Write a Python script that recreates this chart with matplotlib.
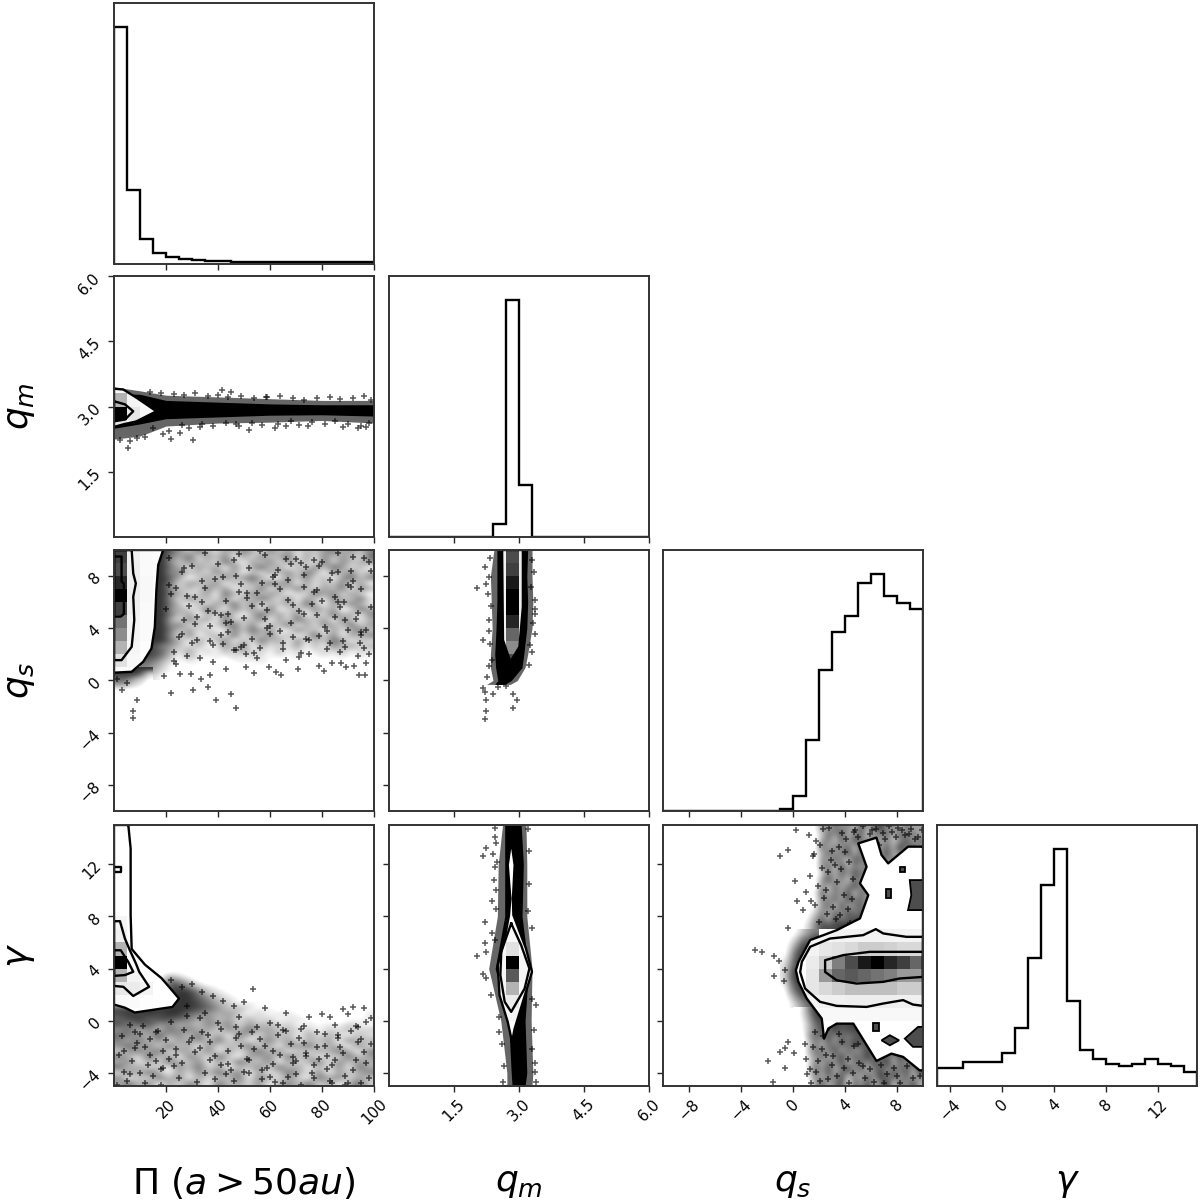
import numpy as np
import matplotlib
matplotlib.use('Agg')
import matplotlib.pyplot as plt

# Ranges and ticks of the four parameters
pi_lim = (0, 100)
qm_lim = (0, 6)
qs_lim = (-10, 10)
gam_lim = (-5, 15)
pi_ticks = [20, 40, 60, 80, 100]
qm_ticks = [1.5, 3.0, 4.5, 6.0]
qs_ticks = [-8, -4, 0, 4, 8]
gam_ticks = [-4, 0, 4, 8, 12]

# Histograms (20 bins each)
pi_hist = [236, 74, 25, 11, 7, 5, 4, 3, 3, 2, 2, 2, 2, 2, 2, 2, 2, 2, 2, 2]
qm_hist = [0, 0, 0, 0, 0, 0, 0, 0, 13, 237, 52, 0, 0, 0, 0, 0, 0, 0, 0, 0]
qs_hist = [0, 0, 0, 0, 0, 0, 0, 0, 0, 2, 15, 71, 141, 180, 196, 229, 238, 216, 209, 203]
gam_hist = [54, 54, 71, 71, 71, 98, 175, 386, 603, 713, 256, 109, 81, 65, 60, 65, 81, 65, 60, 43]

# q_m against Pi
qm_pi_nodes = [0, 10, 20, 40, 60, 80, 100]
qm_pi_grey_lo = [2.25, 2.32, 2.55, 2.62, 2.64, 2.68, 2.62]
qm_pi_grey_hi = [3.45, 3.36, 3.26, 3.22, 3.18, 3.14, 3.14]
qm_pi_dark_lo = [2.50, 2.60, 2.72, 2.76, 2.80, 2.81, 2.78]
qm_pi_dark_hi = [3.30, 3.28, 3.14, 3.10, 3.06, 3.04, 3.04]
qm_pi_x = [5.5, 22, 30.4, 41.6, 45, 33, 74.8, 58.5, 8.7, 2.3, 25.3, 62, 66, 88, 94, 97, 52, 47, 12, 19,
           14, 18, 23, 27, 31, 36, 40, 44, 49, 54, 59, 64, 69, 73, 78, 83, 87, 92, 96, 99,
           15, 21, 26, 29, 34, 38, 43, 48, 53, 57, 63, 68, 71, 76, 81, 85, 90, 95, 98, 6]
qm_pi_y = [2.05, 2.26, 2.22, 3.38, 3.33, 2.53, 2.55, 3.22, 2.28, 2.24, 2.40, 2.50, 2.55, 2.52, 2.50, 2.53, 2.47, 2.60, 2.30, 2.36,
           3.34, 3.30, 3.29, 3.26, 3.31, 3.24, 3.27, 3.22, 3.25, 3.2, 3.22, 3.24, 3.2, 3.16, 3.2, 3.22, 3.18, 3.2, 3.24, 3.16,
           2.5, 2.44, 2.58, 2.5, 2.6, 2.56, 2.62, 2.55, 2.62, 2.58, 2.6, 2.66, 2.58, 2.64, 2.6, 2.66, 2.6, 2.55, 2.62, 2.2]
qm_pi_outer = [(0, 3.41), (3.6, 3.39), (8.7, 3.2), (16.3, 2.89), (8.7, 2.66), (3.6, 2.59), (0, 2.53)]
qm_pi_inner = [(0, 3.12), (4.2, 3.05), (7.4, 2.89), (4.2, 2.7), (0, 2.66)]
qm_pi_cell_x = [0, 5, 10, 15]
qm_pi_cell_y = [2.4, 2.7, 3.0, 3.3, 3.6]
qm_pi_cells = [[0.10, 0.02, 0.0], [1.0, 0.10, 0.03], [0.30, 0.05, 0.02], [0.03, 0.0, 0.0]]

# q_s against Pi: density read on a coarse grid, top row first (Pi 10-100, q_s 10 to 0)
qs_pi_density = [
    "99975364253642635243564536",
    "99964725361526347152635427",
    "99953634274153625341726345",
    "99964253516247351426375241",
    "99956342635142536274153624",
    "99974135263574125362415736",
    "99962543614253746152436251",
    "99953426351427153642537164",
    "99964235174263541327462531",
    "99952634261537426153264372",
    "99963142537261435274153642",
    "99954327416352713426351274",
    "99963514263147352614273516",
    "99942635172436152743516324",
    "99956241357261437152643725",
    "99963524126374521634152473",
    "99952613427153624137261536",
    "99964152361427351624375142",
    "98653241253614232514163524",
    "98742513142523141312324132",
    "88631421213132121211212121",
    "76421211101212101101011011",
    "65310110101011010001000100",
    "54210100010000100000000000",
    "32100010000000000000000000",
]
qs_pi_grid_box = (10, 100, 0, 10)
qs_pi_tail = [  # Pi 0-15, q_s 1 to -1
    "999999",
    "999974",
    "888752",
    "776431",
    "664320",
    "443210",
    "221100",
    "000000",
]
qs_pi_tail_box = (0, 15, -1, 1)
qs_pi_x = [8.9, 7.4, 7.4, 21.8, 30.4, 36, 39.3, 45, 47, 19.3, 25.3, 29.8, 33.6, 36.8, 42.9, 50.8, 54, 59.8, 62.3, 64.2,
           70.6, 79, 80.8, 83.8, 87.2, 89.4, 94.3, 96.4, 97, 92.3, 94.9, 94.5, 86, 88.5, 73, 75, 50.8, 3, 1, 5,
           21, 24, 27, 23, 26, 29, 32, 35, 31, 28, 34, 37, 40, 38, 43, 41, 46, 44, 49, 47,
           52, 50, 55, 53, 58, 56, 61, 59, 64, 62, 67, 65, 70, 68, 73, 71, 76, 74, 79, 77,
           82, 80, 85, 83, 88, 86, 91, 89, 94, 92, 97, 95, 99, 22, 25, 30, 33, 36, 39, 42,
           45, 48, 51, 54, 57, 60, 63, 66, 69, 72, 75, 78, 81, 84, 87, 90, 93, 96, 98, 20,
           23, 28, 31, 35, 38, 41, 44, 47, 50, 53, 56, 59, 62, 65, 68, 71, 74, 77, 80, 83,
           86, 89, 92, 95, 98, 24, 27, 32, 37, 42, 46, 51, 55, 60, 64, 69, 73, 78, 82, 87,
           91, 96, 26, 34, 43, 49, 57, 66, 72, 79, 85, 90, 94, 99, 21, 30, 39, 48, 58, 67]
qs_pi_y = [-1.5, -2.35, -2.9, -.95, -.7, -.5, -1.5, -1, -2.1, .33, .53, .53, .15, .4, .85, 1, .6, 1.05, .67, .4,
           .85, 1.1, .7, 1.35, 1.35, 1, .4, .4, 1.35, 1.1, 3.7, 2.85, 9.75, 6, 5.1, 2.05, 2.05, -.7, .1, -.2,
           9.4, 7.1, 4.6, 2.2, 8.3, 5.7, 3.1, 9.8, 6.4, 1.9, 7.6, 4.2, 8.9, 2.7, 6.1, 3.5, 9.2, 5.1, 7.4, 2.3,
           8.6, 4.8, 6.7, 3.2, 9.6, 2.5, 7.9, 5.4, 3.8, 8.1, 6.2, 2.9, 9.3, 4.4, 7.2, 1.8, 5.9, 8.7, 3.4, 6.8,
           2.4, 9.1, 4.9, 7.7, 3.0, 6.0, 8.4, 2.6, 5.2, 9.5, 3.9, 7.0, 5.6, 6.6, 3.3, 8.8, 1.7, 5.3, 7.8, 2.8,
           4.5, 9.7, 6.3, 2.1, 7.5, 3.6, 8.5, 1.6, 5.8, 9.0, 3.1, 6.9, 4.1, 8.2, 2.2, 7.3, 4.7, 9.4, 2.0, 5.5,
           1.5, 6.5, 4.3, 7.1, 1.4, 5.0, 3.7, 8.0, 2.7, 5.7, 9.9, 4.0, 7.4, 2.4, 8.9, 5.3, 3.2, 9.2, 6.1, 2.9,
           8.3, 4.6, 7.6, 3.5, 9.1, 1.3, 8.6, 4.9, 3.0, 7.9, 2.3, 6.7, 1.7, 4.2, 7.0, 3.3, 8.1, 5.0, 3.8, 5.6,
           7.2, 2.5, 3.6, 6.0, 4.4, 2.6, 5.9, 9.3, 2.1, 8.8, 6.4, 3.9, 1.9, 8.4, 7.3, 2.9, 5.2, 6.8, 4.7, 7.7]
qs_pi_outer = [(18.9, 10), (17, 8.85), (16.3, 6.93), (15.7, 4.1), (14.4, 2.45), (11.2, 1.43), (6.8, .67), (0, .6), (0, 10)]
qs_pi_inner = [(6.8, 10), (7.4, 8.2), (8.4, 7.44), (7.4, 6.42), (7.8, 4.63), (6.8, 2.58), (2.9, 1.56), (0, 1.56), (0, 10)]
qs_pi_core = [(0, 9.5), (2.9, 9.5), (2.9, 7.6), (3.8, 7.4), (3.8, 5.1), (2.6, 4.9), (0, 4.9)]
qs_pi_cell_x = [0, 5, 10, 15, 20]
qs_pi_cell_y = [0, 1, 2, 3, 4, 5, 6, 7, 8, 9, 10]
qs_pi_cells = [[.02, 0, 0, 0], [.12, .03, 0, 0], [.30, .04, .01, 0], [.45, .05, .02, .01], [.55, .05, .02, .01],
               [.75, .06, .02, .01], [1.0, .07, .03, .01], [.85, .07, .03, .01], [.70, .07, .02, .01], [.75, .06, .02, .01]]

# gamma against Pi: density grid, top row first (Pi 0-100, gamma 4 to -5)
gam_pi_density = [
    "00000010000000000000000000",
    "00000421000000000000000000",
    "00000763100000000000000000",
    "00000886321010000000000000",
    "00000899632101000100000000",
    "00000899753210010000000000",
    "00000899864312101000000001",
    "88999999875342120100010011",
    "89898997654531312210100102",
    "78978876463524231221010112",
    "86785645364625342312121321",
    "57463756452637453423132423",
    "76548463725164253415243142",
    "64736254637251463524351634",
    "57462735162437251647253162",
    "35647254361524736142537416",
    "64273516427315462735142735",
    "46152743615274361524716354",
    "73524163725143627351426174",
    "26374152637461523742615346",
    "61427361524371642531746253",
    "47361526417352614637251473",
]
gam_pi_grid_box = (0, 100, -5, 4)
gam_pi_x = [92, 96, 53.4, 88, 90, 83, 80, 97, 99, 94, 22, 26, 30, 34, 38, 42, 46, 50, 58, 66, 75,
            3, 7, 11, 15, 19, 5, 9, 13, 17, 21, 2, 6, 10, 14, 18, 4, 8, 12, 16, 20,
            23, 27, 31, 35, 25, 29, 33, 37, 24, 28, 32, 36, 40, 44, 48, 39, 43, 47, 51, 41,
            45, 49, 53, 57, 52, 56, 60, 64, 55, 59, 63, 67, 61, 65, 69, 73, 62, 68, 72, 76,
            70, 74, 78, 82, 71, 77, 81, 85, 79, 83, 87, 91, 84, 86, 89, 93, 88, 92, 95, 98,
            1, 12, 26, 37, 50, 63, 74, 86, 97, 8, 19, 33, 46, 58, 70, 82, 94, 4, 16, 28,
            41, 54, 66, 78, 90, 6, 22, 35, 48, 61, 73, 85, 96, 14, 30, 44, 57, 69, 81, 93,
            10, 24, 39, 52, 65, 77, 89, 99, 18, 34, 47, 60, 72, 84, 95]
gam_pi_y = [1.06, .98, 2.47, .9, .5, .3, .55, -.1, .2, -.5, 3.1, 2.6, 2.8, 2.2, 1.9, 1.5, 1.1, 1.4, 1.0, .6, .3,
            -1.2, -3.1, -.4, -4.2, -2.3, -4.6, -1.7, -3.4, -.8, -2.9, -2.6, -.3, -4.0, -1.4, -3.7, -3.9, -2.1, -4.8, -.9, -1.5,
            -3.5, -.7, -2.4, .6, -4.4, -1.6, .2, -3.0, -2.2, 1.1, -4.7, -1.1, -.2, -3.3, .3, -2.7, -4.1, -1.3, -2.9, -.6,
            -3.8, -1.9, -.9, -4.5, -3.0, -1.4, -.2, -2.6, -.5, -3.6, -1.1, -4.3, -2.3, -.7, -3.2, -1.7, -4.7, -1.8, -.6, -4.0,
            -3.1, -2.5, -.9, -3.7, -1.3, -4.4, -1.9, -.3, -2.9, -4.6, -2.0, -.8, -3.4, -1.1, -4.2, -.4, -2.5, -3.8, -1.4, -4.4,
            -4.9, -2.0, -3.2, -1.6, -3.9, -.3, -2.7, -1.3, -3.2, -.9, -3.6, -2.1, -4.6, -1.9, -4.1, -2.7, -1.6, -2.3, -3.1, .4,
            -3.4, -2.2, -.8, -2.0, -4.8, -4.1, -.1, -4.0, -1.0, -3.3, -.4, -3.0, -2.4, -2.6, -1.3, -2.3, -3.8, -2.8, -1.0, -3.0,
            -1.0, -2.6, -4.5, -4.0, -4.8, -3.4, -4.9, -1.8, -4.9, -.9, -.5, -4.3, -4.9, -4.8, -4.8]
gam_pi_outer = [(5.5, 15), (6.4, 13.2), (6.4, 8.1), (6.8, 5.5), (11.9, 4.3), (18.3, 3.26), (25, 1.7), (22.5, 1.06),
                (8, .63), (4.2, 1), (0, 1.24), (0, 15)]
gam_pi_mid = [(0, 7.63), (2.3, 7.63), (4.2, 6.3), (6.1, 5.4), (8.4, 4.4), (9.7, 3.75), (13.5, 2.6), (7.4, 1.9), (3.6, 2.6), (0, 2.67)]
gam_pi_core = [(0, 5.4), (2.6, 5.4), (5.5, 4.5), (7.4, 3.75), (4.2, 3.5), (0, 3.44)]
gam_pi_spot = [(0, 11.8), (2.6, 11.8), (2.6, 11.37), (0, 11.37)]
gam_pi_cell_x = [0, 5, 10, 15]
gam_pi_cell_y = [1, 2, 3, 4, 5, 6, 7, 8]
gam_pi_cells = [[.03, .02, .01], [.09, .08, .05], [.30, .05, .01], [1.0, .03, .01], [.30, .02, 0], [.06, .01, 0], [.04, .01, 0]]

# q_s against q_m
qs_qm_nodes = [-.3, 0, 1, 2, 4, 6, 8, 10]
qs_qm_grey_lo = [2.25, 2.40, 2.34, 2.34, 2.38, 2.36, 2.34, 2.42]
qs_qm_grey_hi = [2.80, 2.96, 3.14, 3.20, 3.30, 3.32, 3.30, 3.30]
qs_qm_dark_lo = [2.44, 2.51, 2.46, 2.44, 2.47, 2.49, 2.49, 2.49]
qs_qm_dark_hi = [2.67, 2.82, 3.07, 3.11, 3.18, 3.20, 3.18, 3.20]
qs_qm_x = [2.04, 2.21, 2.17, 2.21, 2.25, 2.4, 2.7, 2.86, 2.95, 2.87, 2.25, 2.21, 2.17, 2.51, 3.37, 2.3, 2.25, 3.36, 3.38, 2.3,
           2.32, 2.28, 2.36, 2.3, 2.34, 2.38, 2.3, 2.26, 3.3, 3.34, 3.28, 3.36, 3.32, 3.26, 3.3, 3.22]
qs_qm_y = [7.06, 8.72, 3.1, -.87, -1.5, -1, -.4, -1, -1.5, -2.1, -2.35, -2.92, -.6, -.5, 3.6, 7.9, 7.4, 6.2, 5.1, 3.8,
           9.4, 6.6, 5.7, 4.6, 2.8, 1.6, 1.1, .3, 9.2, 8.3, 7.2, 5.5, 4.4, 2.7, 2.2, 1.2]
qs_qm_outer = [(2.61, 10), (2.63, 3.1), (2.8, 1.43), (3.01, 2.58), (3.09, 5.65), (3.09, 10)]
qs_qm_cell_x = [2.4, 2.7, 3.0, 3.3]
qs_qm_cell_y = [0, 1, 2, 3, 4, 5, 6, 7, 8, 9, 10]
qs_qm_cells = [[0, .7, 0], [.02, .7, 0], [.05, .45, .08], [.05, .6, .08], [.05, .85, .08],
               [.05, 1.0, .08], [.05, 1.0, .08], [.05, .9, .08], [.05, .75, .08], [.05, .7, .08]]

# gamma against q_m
gam_qm_nodes = [15, 12, 8, 4, 0, -4, -5]
gam_qm_grey_lo = [2.62, 2.52, 2.50, 2.30, 2.58, 2.72, 2.72]
gam_qm_grey_hi = [3.16, 3.18, 3.18, 3.30, 3.28, 3.32, 3.30]
gam_qm_dark_lo = [2.67, 2.67, 2.67, 2.45, 2.76, 2.82, 2.84]
gam_qm_dark_hi = [3.05, 3.10, 3.07, 3.22, 3.14, 3.18, 3.14]
gam_qm_x = [2.04, 2.17, 2.4, 2.44, 3.2, 2.25, 2.47, 2.44, 2.38, 2.21, 2.47, 2.21, 2.25, 2.23, 2.36, 2.17, 3.3, 3.39, 2.55, 3.36, 2.63, 3.4,
            2.45, 2.5, 2.42, 2.48, 2.38, 2.44, 3.22, 3.24, 3.2, 3.3, 3.34, 3.3, 3.36, 2.55, 2.6, 2.66]
gam_qm_y = [4.97, 12.65, 12.8, 14.74, 14.7, 13.2, 13.6, 11.8, 9.17, 7.58, 10, 5.92, 5.28, 3.24, 1.96, 3.62, 7.07, 1.19, -.86, -3.9, -4.7, -4.7,
            14.1, 12.2, 10.8, 8.6, 6.7, 6.2, 13, 10.5, 8.4, 1.7, -.7, -2.2, -3.2, .3, -1.8, -3.5]
gam_qm_outer = [(2.82, 13.85), (2.9, 11.93), (2.86, 9.37), (2.87, 8.1), (3.16, 5.54), (3.3, 3.75), (3.09, 1.45), (2.9, -.6),
                (2.84, -1.62), (2.74, -.09), (2.55, 1.96), (2.51, 4.26), (2.67, 6.3), (2.77, 8.1), (2.8, 9.37), (2.74, 11.93)]
gam_qm_inner = [(2.82, 7.46), (3.05, 5.79), (3.24, 4), (3.13, 2.47), (2.82, .68), (2.67, 1.45), (2.57, 3.5), (2.59, 5.28)]
gam_qm_cell_x = [2.4, 2.7, 3.0, 3.3]
gam_qm_cell_y = [0, 1, 2, 3, 4, 5, 6, 7]
gam_qm_cells = [[.02, .04, .01], [.03, .08, .02], [.04, .30, .03], [.04, .65, .04], [.04, 1.0, .04], [.03, .12, .02], [.01, .03, 0]]

# gamma against q_s: density grids, top row first
gam_qs_top = [  # q_s 0-10, gamma 15 to 7
    "00016475638479563745",
    "00013758467356748574",
    "00005637486574635847",
    "00017465738465749685",
    "00014756847375846574",
    "00006475386748563748",
    "00015738465647385967",
    "00003647586748598677",
    "00015846375867498687",
    "00006374685748569788",
    "00027465837566758677",
    "00016574867485767688",
    "00025738467586778899",
    "00136475867688899999",
    "00257486788899999999",
    "01368889999999999999",
]
gam_qs_top_box = (0, 10, 7, 15)
gam_qs_mid_grid = [  # q_s -1 to 2, gamma 7 to 1
    "001356",
    "013679",
    "025899",
    "037999",
    "148999",
    "258999",
    "269999",
    "269999",
    "158999",
    "047999",
    "025799",
    "013578",
]
gam_qs_mid_box = (-1, 2, 1, 7)
gam_qs_low = [  # q_s 0-10, gamma 1 to -5
    "02699999999999999999",
    "02589999999999999999",
    "01478888899999999999",
    "01468697889988999999",
    "00576857678899889999",
    "00364758697888879788",
    "00475684756878697868",
    "00357468576968758697",
    "00264758467586947586",
    "00375846957468576849",
    "00264758364759685746",
    "00157468275846937584",
]
gam_qs_low_box = (0, 10, -5, 1)
gam_qs_x = [-2.9, -2.4, -1.5, -1.1, -.6, -1.5, -.73, -.42, -.98, -.42, .22, .12, .98, .3, .75, -.6, -1, .1, -1.95, -.6, -1.55, -.35,
            1.2, 1.5, 1.9, 2.3, 2.7, 3.1, 3.5, 3.9, 4.3, 4.7, 1.4, 1.8, 2.2, 2.6, 3, 3.4, 3.8, 4.2, 4.6, 5,
            1.3, 1.7, 2.1, 2.5, 2.9, 3.3, 3.7, 4.1, 4.5, 1.6, 2, 2.4, 2.8, 3.2, 3.6, 4, 4.4, 4.8,
            6.1, 6.6, 7.1, 7.6, 8.1, 8.6, 9.1, 9.6, 5.4, 5.9, 6.4, 6.9, 7.4, 7.9, 8.4, 8.9, 9.4, 9.9,
            .9, 1.3, 1.7, 2.1, 2.5, 1.1, 1.5, 1.9, 2.3, 2.7, 3.1, 3.5, 3.9, 4.3, 4.7, 5.1, 5.5, 5.9, 1, 1.4,
            1.8, 2.2, 2.6, 3, 3.4, 3.8, 4.2, 4.6, 5, 5.4, 6.2, 6.8, 7.2, 7.8, 8.2, 8.8, 9.2, 9.8, 7, 8]
gam_qs_y = [5.4, 5.28, 4.97, 4.57, 3.87, 3.4, 3.06, 7.07, 12.6, 13.1, 14.6, 10.7, 9.83, 9.17, 8.5, -2.1, -2.4, -2.5, -3.1, -3.6, -4.7, -1.6,
            14.2, 12.6, 10.3, 14.7, 11.4, 8.7, 13.3, 9.6, 12.2, 14.5, 9.2, 13.8, 11.7, 8.2, 13, 10.6, 14.4, 8.6, 10.9, 14.1,
            11.1, 8.9, 13.5, 10, 12.3, 7.8, 11.6, 13.9, 9.3, 12.8, 7.6, 9.4, 14.8, 11.9, 8.1, 12.9, 7.5, 14.6,
            14.6, 13.5, 13.9, 14.5, 14.8, 14.2, 14.7, 14.1, 14.9, 14.3, 14.7, 14.4, 14.9, 14.1, 14.6, 14.3, 13.9, 14.6,
            -1.8, -3.7, -.9, -4.6, -2.6, -4.1, -2, -3.1, -1.2, -4.5, -2.7, -1, -3.6, -4.8, -1.9, -3.2, -4.4, -3.7, -2.9, -4.8,
            -3.9, -2.2, -.7, -3.4, -4.2, -1.6, -2.9, -4, -1.8, -3.5, -4.7, -3.4, -4.1, -3.6, -4.8, -3.5, -4.4, -4.2, -4.8, -4.2]
gam_qs_outer = [(10, 13.34), (8.85, 13.34), (7.32, 12.06), (6.81, 12.7), (6.42, 14.03), (5.02, 13.59), (5.66, 11.8), (5.15, 10.52),
                (5.79, 9.63), (5.15, 7.84), (3.36, 6.94), (1.32, 6.18), (.42, 4.51), (.22, 3.87), (.42, 2.98), (1.06, 1.7),
                (2.21, .17), (2.39, -1.37), (2.72, -.6), (3.36, -.22), (4.64, -.22), (6.42, -3.08), (7.57, -2.52), (8.47, -2.77),
                (9.74, -3.8), (10, -3.8)]
gam_qs_mid = [(10, 6.43), (8.72, 6.43), (6.94, 6.69), (6.37, 7.02), (5.4, 6.56), (2.85, 6.3), (1.32, 5.67), (.68, 4.51), (.55, 3.74),
              (.93, 2.47), (2.08, 1.45), (3.36, 1.14), (5.66, 1.06), (6.94, 1.32), (8.47, 1.58), (9.23, 1.24), (10, 1.14)]
gam_qs_core = [(10, 5.28), (7.96, 5.28), (5.91, 5.28), (3.87, 5.03), (2.47, 4.64), (2.47, 3.74), (3.36, 3.1), (4.89, 2.85),
               (6.94, 2.98), (8.21, 3.24), (10, 3.36)]
gam_qs_islands = [
    [(8.2, 11.8), (8.6, 11.8), (8.6, 11.4), (8.2, 11.4)],
    [(7.15, 10.1), (7.5, 10.1), (7.5, 9.4), (7.15, 9.4)],
    [(8.98, 10.78), (10, 10.78), (10, 8.48), (8.85, 8.48), (9.1, 9.63)],
    [(6.15, -.2), (6.6, -.2), (6.6, -.75), (6.15, -.75)],
    [(6.81, -1.5), (7.45, -1.11), (8.16, -1.5), (7.45, -1.88)],
    [(8.6, -1.37), (9.62, -.47), (10, -.47), (10, -2), (9.23, -2)],
]
gam_qs_cell_x = [1, 2, 3, 4, 5, 6, 7, 8, 9, 10]
gam_qs_cell_y = [0, 1, 2, 3, 4, 5, 6, 7]
gam_qs_cells = [
    [.02, .03, .03, .03, .03, .03, .03, .03, .03],
    [.04, .06, .06, .07, .07, .07, .07, .06, .06],
    [.10, .15, .20, .25, .25, .25, .25, .20, .20],
    [.10, .40, .60, .65, .60, .55, .50, .40, .40],
    [.08, .20, .50, .70, .90, 1.0, .85, .75, .60],
    [.05, .10, .12, .15, .20, .20, .18, .15, .15],
    [.02, .04, .05, .05, .05, .05, .05, .05, .05],
]


def place(col, row):
    lefts = [114, 389, 663, 937]
    tops = [3, 276, 550, 825]
    return fig.add_axes([lefts[col] / 1200, 1 - (tops[row] + 261) / 1202, 260 / 1200, 261 / 1202])


def density(ax, rows, box):
    # rows are strings of digits, 0 = empty and 9 = dense
    grid = [[int(c) for c in row] for row in rows]
    ax.imshow(grid, extent=box, origin='upper', aspect='auto', cmap='gray_r', vmin=1, vmax=11,
              interpolation='bicubic', zorder=1)


def specks(ax, x, y):
    ax.scatter(x, y, marker='+', s=15, color='k', alpha=0.65, linewidths=1.1, zorder=2)


def band(ax, nodes, grey_lo, grey_hi, dark_lo, dark_hi, vertical=False):
    # thin dense clouds, drawn as a soft and a solid envelope
    if vertical:
        ax.fill_betweenx(nodes, grey_lo, grey_hi, color='0.4', lw=0, zorder=1)
        ax.fill_betweenx(nodes, dark_lo, dark_hi, color='k', lw=0, zorder=1)
    else:
        ax.fill_between(nodes, grey_lo, grey_hi, color='0.4', lw=0, zorder=1)
        ax.fill_between(nodes, dark_lo, dark_hi, color='k', lw=0, zorder=1)


def level(ax, pts, filled=False, cells=None):
    xy = np.array(pts)
    if filled:
        patch = ax.fill(xy[:, 0], xy[:, 1], color='white', lw=0, zorder=3)[0]
        if cells is not None:
            mesh = ax.pcolormesh(cells[0], cells[1], cells[2], cmap='gray_r', vmin=0, vmax=1, zorder=4, lw=0)
            mesh.set_clip_path(patch)
    xy = np.vstack([xy, xy[:1]])
    ax.plot(xy[:, 0], xy[:, 1], color='k', lw=1.7, zorder=5)


def set_ticks(ax, xlim, ylim, xt, yt):
    ax.set_xlim(xlim)
    ax.set_ylim(ylim)
    ax.set_xticks(xt)
    ax.set_yticks(yt)
    ax.tick_params(length=4, width=1, labelsize=11, labelbottom=False, labelleft=False, color='0.15')
    for s in ax.spines.values():
        s.set_linewidth(1.4)
        s.set_color('0.2')
        s.set_zorder(8)


fig = plt.figure(figsize=(12, 12.02), dpi=100)

lims = [pi_lim, qm_lim, qs_lim, gam_lim]
ticks = [pi_ticks, qm_ticks, qs_ticks, gam_ticks]
hists = [pi_hist, qm_hist, qs_hist, gam_hist]
names = [r'$\Pi\ (a > 50 au)$', r'$q_m$', r'$q_s$', r'$\gamma$']
axes = {}

for i in range(4):
    for j in range(i + 1):
        ax = place(j, i)
        axes[i, j] = ax
        if i == j:
            edges = np.linspace(lims[i][0], lims[i][1], 21)
            ax.stairs(hists[i], edges, color='k', lw=1.7)
            set_ticks(ax, lims[i], (0, 1.1 * max(hists[i])), ticks[i], [])
        else:
            set_ticks(ax, lims[j], lims[i], ticks[j], ticks[i])
        if i == 3:
            ax.tick_params(labelbottom=True)
            plt.setp(ax.get_xticklabels(), rotation=45)
            ax.set_xlabel(names[j], fontsize=26, va='center')
            ax.xaxis.set_label_coords(0.5, -0.37)
        if j == 0 and i > 0:
            ax.tick_params(labelleft=True)
            plt.setp(ax.get_yticklabels(), rotation=45)
            ax.set_ylabel(names[i], fontsize=26, va='center')
            ax.yaxis.set_label_coords(-0.36, 0.5)

# q_m vs Pi
ax = axes[1, 0]
band(ax, qm_pi_nodes, qm_pi_grey_lo, qm_pi_grey_hi, qm_pi_dark_lo, qm_pi_dark_hi)
specks(ax, qm_pi_x, qm_pi_y)
level(ax, qm_pi_outer, True, (qm_pi_cell_x, qm_pi_cell_y, qm_pi_cells))
level(ax, qm_pi_inner)

# q_s vs Pi
ax = axes[2, 0]
density(ax, qs_pi_density, qs_pi_grid_box)
density(ax, qs_pi_tail, qs_pi_tail_box)
specks(ax, qs_pi_x, qs_pi_y)
level(ax, qs_pi_outer, True, (qs_pi_cell_x, qs_pi_cell_y, qs_pi_cells))
level(ax, qs_pi_inner)
level(ax, qs_pi_core)

# gamma vs Pi
ax = axes[3, 0]
density(ax, gam_pi_density, gam_pi_grid_box)
specks(ax, gam_pi_x, gam_pi_y)
level(ax, gam_pi_outer, True, (gam_pi_cell_x, gam_pi_cell_y, gam_pi_cells))
level(ax, gam_pi_mid)
level(ax, gam_pi_core)
level(ax, gam_pi_spot)

# q_s vs q_m
ax = axes[2, 1]
band(ax, qs_qm_nodes, qs_qm_grey_lo, qs_qm_grey_hi, qs_qm_dark_lo, qs_qm_dark_hi, vertical=True)
specks(ax, qs_qm_x, qs_qm_y)
level(ax, qs_qm_outer, True, (qs_qm_cell_x, qs_qm_cell_y, qs_qm_cells))

# gamma vs q_m
ax = axes[3, 1]
band(ax, gam_qm_nodes, gam_qm_grey_lo, gam_qm_grey_hi, gam_qm_dark_lo, gam_qm_dark_hi, vertical=True)
specks(ax, gam_qm_x, gam_qm_y)
level(ax, gam_qm_outer, True, (gam_qm_cell_x, gam_qm_cell_y, gam_qm_cells))
level(ax, gam_qm_inner)

# gamma vs q_s
ax = axes[3, 2]
density(ax, gam_qs_top, gam_qs_top_box)
density(ax, gam_qs_mid_grid, gam_qs_mid_box)
density(ax, gam_qs_low, gam_qs_low_box)
specks(ax, gam_qs_x, gam_qs_y)
level(ax, gam_qs_outer, True, (gam_qs_cell_x, gam_qs_cell_y, gam_qs_cells))
level(ax, gam_qs_mid)
level(ax, gam_qs_core)
for blob in gam_qs_islands:
    xy = np.array(blob)
    ax.fill(xy[:, 0], xy[:, 1], facecolor='0.3', edgecolor='k', lw=1.3, zorder=6)

fig.savefig('out.png', dpi=100)
